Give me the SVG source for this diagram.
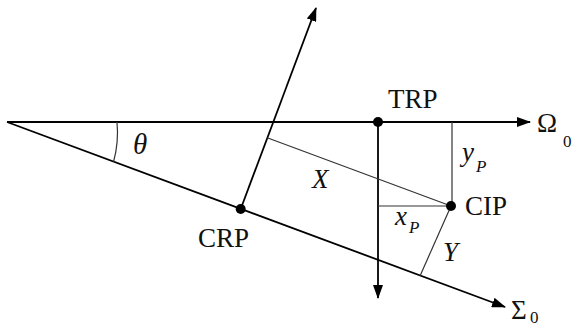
<svg xmlns="http://www.w3.org/2000/svg" width="574" height="328" viewBox="0 0 574 328">
<defs>
<marker id="ah" markerWidth="14" markerHeight="10" refX="13" refY="5" orient="auto" markerUnits="userSpaceOnUse">
<path d="M0,0 L14,5 L0,10 Z" fill="#000"/>
</marker>
<style>
.ax{stroke:#000;stroke-width:1.8;fill:none}
.th{stroke:#333;stroke-width:1.2;fill:none}
.lb{font-family:"Liberation Serif","Times New Roman",serif;font-size:27px;fill:#111}
.it{font-style:italic}
.sb{font-size:17px}
</style>
</defs>
<rect width="574" height="328" fill="#fff"/>
<g id="connectors">
<line class="ax" x1="7" y1="122" x2="530" y2="122" marker-end="url(#ah)"/>
<line class="ax" x1="7" y1="122" x2="505" y2="307" marker-end="url(#ah)"/>
<line class="ax" x1="240.7" y1="209" x2="316" y2="8" marker-end="url(#ah)"/>
<line class="ax" x1="378" y1="122" x2="378" y2="298" marker-end="url(#ah)"/>
<line class="th" x1="267.2" y1="137.8" x2="451" y2="206"/>
<line class="th" x1="452" y1="122" x2="452" y2="206"/>
<line class="th" x1="378" y1="206" x2="451" y2="206"/>
<line class="th" x1="451" y1="206" x2="420" y2="276"/>
<path class="th" d="M117,122 A110,110 0 0 1 113.5,162"/>
</g>
<g id="TRP">
<circle cx="378" cy="122" r="5" fill="#000"/>
<text class="lb" x="388" y="108">TRP</text>
</g>
<g id="CIP">
<circle cx="451" cy="206" r="5" fill="#000"/>
<text class="lb" x="465" y="215">CIP</text>
</g>
<g id="CRP">
<circle cx="240.7" cy="209" r="5" fill="#000"/>
<text class="lb" x="198" y="247">CRP</text>
</g>
<g id="labels">
<text class="lb" x="537" y="132">Ω</text>
<text class="lb sb" x="563" y="147">0</text>
<text class="lb" x="511" y="319">Σ</text>
<text class="lb sb" x="530" y="323">0</text>
<text class="lb it" x="133" y="154" style="font-size:29px">θ</text>
<text class="lb it" x="312" y="188">X</text>
<text class="lb it" x="462" y="161">y</text>
<text class="lb it sb" x="476" y="172">P</text>
<text class="lb it" x="395" y="225">x</text>
<text class="lb it sb" x="409" y="233">P</text>
<text class="lb it" x="443" y="261">Y</text>
</g>
</svg>
